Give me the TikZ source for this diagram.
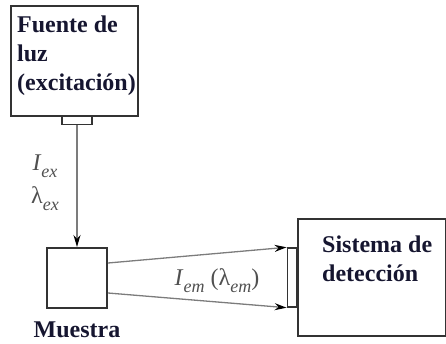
\documentclass[tikz,border=0pt]{standalone}
\usepackage{fontspec}
\setmainfont{Liberation Serif}
\usetikzlibrary{arrows.meta,positioning}
\definecolor{tinta}{RGB}{22,22,48}
\definecolor{gris}{RGB}{80,80,80}
\newcommand{\sub}[1]{\raisebox{-0.3em}{\fontsize{18}{18}\selectfont\itshape #1}}

\begin{document}
\begin{tikzpicture}[x=1pt,y=-1pt,
    caja/.style={draw=black!80,line width=2pt,inner sep=0pt},
    pestana/.style={draw=black!80,line width=1.4pt,inner sep=0pt},
    rotulo/.style={font=\bfseries\fontsize{24}{29}\selectfont,text=tinta,align=left,inner sep=0pt},
    magnitud/.style={font=\fontsize{24}{29}\selectfont,text=gris,inner sep=0pt},
    haz/.style={draw=gris!75,line width=1.3pt,-{Stealth[length=12pt,width=7pt,color=black]}}]
	%%%%% START %%%%%
	
	\useasboundingbox (0,0) rectangle (446,343);
	
	% fuente de luz
	\node[caja,anchor=north west,minimum width=127pt,minimum height=110pt] (fuente) at (10,5) {};
	\node[pestana,anchor=north,minimum width=30pt,minimum height=9pt] (salida) at (77,115) {};
	\node[rotulo,anchor=north west] (txtfuente) at (17,16) {Fuente de\\luz\\(excitación)};
	
	% muestra
	\node[caja,anchor=north,minimum size=60pt] (muestra) at (77,247) {};
	\node[rotulo,anchor=base] (txtmuestra) at (77,337) {Muestra};
	
	% detector
	\node[caja,anchor=north west,minimum width=148pt,minimum height=117pt] (detector) at (297,218) {};
	\node[pestana,anchor=east,minimum width=9pt,minimum height=59pt] (entrada) at (detector.west) {};
	\node[rotulo,anchor=north west] (txtdetector) at (322,236) {Sistema de\\detección};
	
	% haces
	\draw[haz] (salida.south) -- (muestra.north);
	\draw[haz] ([yshift=15pt]muestra.east) -- (entrada.north west);
	\draw[haz] ([yshift=-15pt]muestra.east) -- (entrada.south west);
	
	\node[magnitud] (iex) at (45,166) {\textit{I}\sub{ex}};
	\node[magnitud] (lex) at (45,199) {λ\sub{ex}};
	\node[magnitud] (iem) at (217,281) {\textit{I}\sub{em} (λ\sub{em})};
	
	%%%%% END %%%%%
\end{tikzpicture}
\end{document}
